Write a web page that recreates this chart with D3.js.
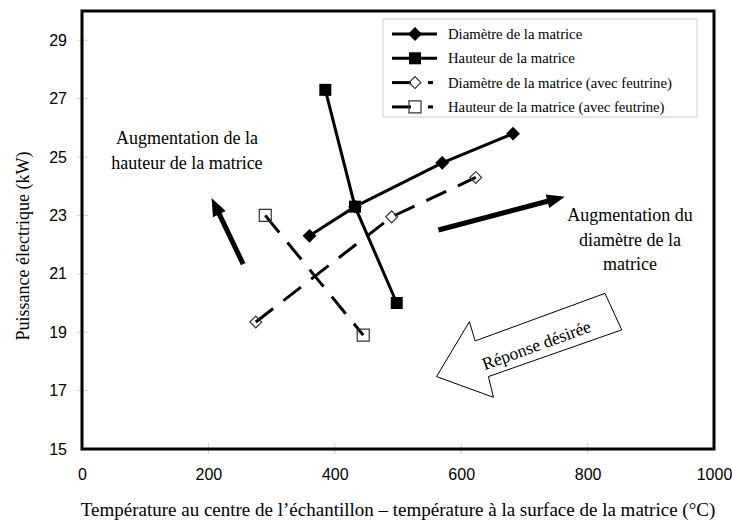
<!DOCTYPE html>
<html>
<head>
<meta charset="utf-8">
<script src="https://cdn.jsdelivr.net/npm/d3@7/dist/d3.min.js"></script>
<style>
  body { margin: 0; background: #fff; }
  text { font-family: "Liberation Serif", "Times New Roman", serif; fill: #000; }
  .tick text { font-family: "Liberation Sans", Arial, sans-serif; font-size: 16px; }
</style>
</head>
<body>
<div id="chart"></div>
<script>
// values
var diamX = [360, 432, 570, 682];
var diamY = [22.3, 23.3, 24.8, 25.8];
var hautX = [385, 432, 498];
var hautY = [27.3, 23.3, 20.0];
var diamFeutX = [275, 490, 623];
var diamFeutY = [19.35, 22.95, 24.3];
var hautFeutX = [290, 445];
var hautFeutY = [23.0, 18.9];

var seriesNames = ["Diamètre de la matrice", "Hauteur de la matrice",
  "Diamètre de la matrice (avec feutrine)", "Hauteur de la matrice (avec feutrine)"];

var xTicks = [0, 200, 400, 600, 800, 1000];
var yTicks = [15, 17, 19, 21, 23, 25, 27, 29];

// chart size
var width = 732, height = 522;
var plotLeft = 82, plotRight = 714, plotTop = 11, plotBottom = 449;

var x = d3.scaleLinear().domain([0, 1000]).range([plotLeft, plotRight]);
var y = d3.scaleLinear().domain([15, 30]).range([plotBottom, plotTop]);

var svg = d3.select('#chart').append('svg')
  .attr('width', width)
  .attr('height', height);

// faint tick marks crossing the frame
svg.selectAll('.ytk').data(yTicks.slice(1)).enter().append('line')
  .attr('x1', plotLeft - 5).attr('x2', plotLeft + 6)
  .attr('y1', function(d) { return y(d); }).attr('y2', function(d) { return y(d); })
  .attr('stroke', '#d0d0d0').attr('stroke-width', 1);
svg.selectAll('.xtk').data(xTicks.slice(1, -1)).enter().append('line')
  .attr('x1', function(d) { return x(d); }).attr('x2', function(d) { return x(d); })
  .attr('y1', plotBottom - 6).attr('y2', plotBottom + 5)
  .attr('stroke', '#d0d0d0').attr('stroke-width', 1);

// axes (labels only)
var yAxis = svg.append('g').attr('transform', 'translate(' + plotLeft + ',0)')
  .call(d3.axisLeft(y).tickValues(yTicks).tickSize(0).tickPadding(15));
yAxis.select('.domain').remove();
var xAxis = svg.append('g').attr('transform', 'translate(0,' + plotBottom + ')')
  .call(d3.axisBottom(x).tickValues(xTicks).tickFormat(d3.format('d')).tickSize(0).tickPadding(20));
xAxis.select('.domain').remove();

// plot frame
svg.append('rect')
  .attr('x', plotLeft).attr('y', plotTop)
  .attr('width', plotRight - plotLeft).attr('height', plotBottom - plotTop)
  .attr('fill', 'none').attr('stroke', '#000').attr('stroke-width', 3);

// axis titles
svg.append('text')
  .attr('x', 398).attr('y', 516)
  .attr('text-anchor', 'middle')
  .style('font-size', '19px')
  .text('Température au centre de l\u2019échantillon \u2013 température à la surface de la matrice (°C)');
svg.append('text')
  .attr('transform', 'translate(29,' + 246 + ') rotate(-90)')
  .attr('text-anchor', 'middle')
  .style('font-size', '18px')
  .text('Puissance électrique (kW)');

// series
function pts(xs, ys) {
  return xs.map(function(d, i) { return { x: d, y: ys[i] }; });
}
var series = [
  { name: seriesNames[0], data: pts(diamX, diamY), dash: null, shape: 'diamond', filled: true },
  { name: seriesNames[1], data: pts(hautX, hautY), dash: null, shape: 'square', filled: true },
  { name: seriesNames[2], data: pts(diamFeutX, diamFeutY), dash: '22,13', shape: 'diamond', filled: false },
  { name: seriesNames[3], data: pts(hautFeutX, hautFeutY), dash: '22,13', shape: 'square', filled: false }
];

var line = d3.line()
  .x(function(d) { return x(d.x); })
  .y(function(d) { return y(d.y); });

function drawMarker(g, s, px, py) {
  var sym = d3.symbol().type(d3.symbolSquare).size(s.filled ? (s.shape === 'square' ? 144 : 96) : (s.shape === 'square' ? 144 : 70));
  g.append('path')
    .attr('d', sym())
    .attr('transform', 'translate(' + px + ',' + py + ')' + (s.shape === 'diamond' ? ' rotate(45)' : ''))
    .attr('fill', s.filled ? '#000' : 'none')
    .attr('stroke', s.filled ? 'none' : '#333')
    .attr('stroke-width', 1.2);
}

series.forEach(function(s) {
  svg.append('path')
    .datum(s.data)
    .attr('d', line)
    .attr('fill', 'none')
    .attr('stroke', '#000')
    .attr('stroke-width', 3)
    .attr('stroke-dasharray', s.dash);
  var g = svg.append('g');
  s.data.forEach(function(d) { drawMarker(g, s, x(d.x), y(d.y)); });
});

// legend
var legend = svg.append('g');
legend.append('rect')
  .attr('x', 383).attr('y', 19).attr('width', 314).attr('height', 98)
  .attr('fill', '#fff').attr('stroke', '#ccc').attr('stroke-width', 1);
series.forEach(function(s, i) {
  var ly = 34 + i * 24.3;
  if (s.filled) {
    legend.append('line').attr('x1', 392).attr('x2', 437).attr('y1', ly).attr('y2', ly)
      .attr('stroke', '#000').attr('stroke-width', 3);
  } else {
    legend.append('line').attr('x1', 392).attr('x2', 411).attr('y1', ly).attr('y2', ly)
      .attr('stroke', '#000').attr('stroke-width', 3);
    legend.append('line').attr('x1', 428).attr('x2', 433).attr('y1', ly).attr('y2', ly)
      .attr('stroke', '#000').attr('stroke-width', 3);
  }
  drawMarker(legend, s, 415, ly);
  legend.append('text')
    .attr('x', 448).attr('y', ly + 5)
    .style('font-size', '14.7px')
    .text(s.name);
});

// annotation arrows (in data units)
var arrowHaut = [[255, 21.33], [205, 23.6]];
var arrowDiam = [[564, 22.5], [764, 23.64]];

function solidArrow(a) {
  var x0 = x(a[0][0]), y0 = y(a[0][1]), x1 = x(a[1][0]), y1 = y(a[1][1]);
  var dx = x1 - x0, dy = y1 - y0, len = Math.sqrt(dx * dx + dy * dy);
  var ux = dx / len, uy = dy / len;
  var hl = 18, hw = 7;
  var bx = x1 - ux * hl, by = y1 - uy * hl;
  svg.append('line')
    .attr('x1', x0).attr('y1', y0).attr('x2', bx + ux * 2).attr('y2', by + uy * 2)
    .attr('stroke', '#000').attr('stroke-width', 5);
  svg.append('path')
    .attr('d', 'M' + x1 + ',' + y1 +
      'L' + (bx - uy * hw) + ',' + (by + ux * hw) +
      'L' + (bx + uy * hw) + ',' + (by - ux * hw) + 'Z')
    .attr('fill', '#000');
}
solidArrow(arrowHaut);
solidArrow(arrowDiam);

// hollow block arrow "Réponse désirée"
var blockArrow = [[561, 17.48], [613, 19.36], [622, 18.7], [827.5, 20.33],
  [854, 19.08], [643, 17.48], [651, 16.77]];
svg.append('path')
  .attr('d', d3.line().x(function(d) { return x(d[0]); }).y(function(d) { return y(d[1]); })(blockArrow) + 'Z')
  .attr('fill', '#fff').attr('stroke', '#000').attr('stroke-width', 1);
svg.append('text')
  .attr('transform', 'translate(' + x(719) + ',' + y(18.56) + ') rotate(-20)')
  .attr('text-anchor', 'middle').attr('dy', '0.35em')
  .style('font-size', '17.5px')
  .text('Réponse désirée');

// annotation texts
var noteHaut = ['Augmentation de la', 'hauteur de la matrice'];
var noteDiam = ['Augmentation du', 'diamètre de la', 'matrice'];
noteHaut.forEach(function(t, i) {
  svg.append('text')
    .attr('x', x(166)).attr('y', 144 + i * 24.5)
    .attr('text-anchor', 'middle')
    .style('font-size', '18px')
    .text(t);
});
noteDiam.forEach(function(t, i) {
  svg.append('text')
    .attr('x', x(867)).attr('y', 221 + i * 24.5)
    .attr('text-anchor', 'middle')
    .style('font-size', '18px')
    .text(t);
});
</script>
</body>
</html>
